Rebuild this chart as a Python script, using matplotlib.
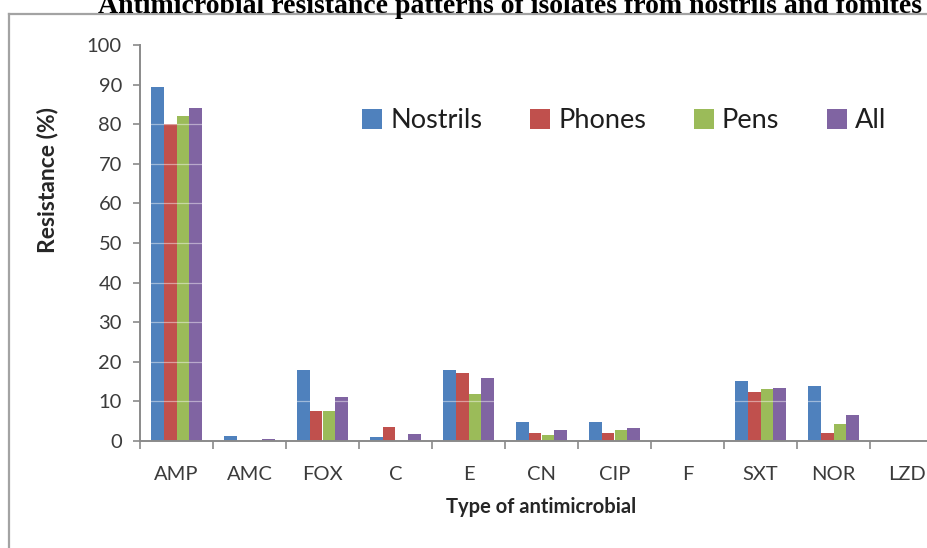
import matplotlib
matplotlib.use("Agg")
import matplotlib.pyplot as plt
import numpy as np
from matplotlib.lines import Line2D

# Resistance (%) per antimicrobial and isolate source
categories = ["AMP", "AMC", "FOX", "C", "E", "CN", "CIP", "F", "SXT", "NOR", "LZD"]
nostrils = [89.5, 1.2, 18.0, 1.1, 18.0, 4.9, 4.9, 0.0, 15.2, 13.9, 0.0]
phones   = [80.0, 0.0, 7.7, 3.5, 17.1, 1.9, 1.9, 0.0, 12.4, 1.9, 0.0]
pens     = [82.0, 0.0, 7.5, 0.0, 11.8, 1.4, 2.8, 0.0, 13.2, 4.3, 0.0]
all_src  = [84.0, 0.4, 11.0, 1.7, 16.0, 2.9, 3.4, 0.0, 13.5, 6.6, 0.0]
series_names = ["Nostrils", "Phones", "Pens", "All"]
yticks = list(range(0, 101, 10))

series = [nostrils, phones, pens, all_src]
colors = ["#4F81BD", "#C0504D", "#9BBB59", "#8064A2"]

W, H = 927, 548
fig = plt.figure(figsize=(W / 100, H / 100), dpi=100)
fig.patch.set_facecolor("white")

# plot area (extends past the right edge of the canvas)
ax = fig.add_axes([140 / W, 107 / H, 803 / W, 396 / H])
ax.set_facecolor("none")

x = np.arange(len(categories))
bw = 0.178
for i, (vals, col, name) in enumerate(zip(series, colors, series_names)):
    ax.bar(x + (i - 1.5) * bw, vals, width=bw, color=col, label=name,
           linewidth=0, zorder=2)

ax.set_xlim(-0.5, len(categories) - 0.5)
ax.set_ylim(0, 100)
ax.set_yticks(yticks)
ax.set_yticklabels([str(v) for v in yticks])

# faint horizontal lines showing across the bars
for v in yticks[1:]:
    ax.axhline(v, color="white", lw=0.9, alpha=0.45, zorder=3)

axis_grey = "#8a8a8a"
for s in ["top", "right"]:
    ax.spines[s].set_visible(False)
for s in ["left", "bottom"]:
    ax.spines[s].set_color(axis_grey)
    ax.spines[s].set_linewidth(1.4)
    ax.spines[s].set_zorder(4)

tick_font = dict(family="Lato", size=14.5)
ax.set_xticks(x)
ax.set_xticklabels(categories, fontdict=tick_font, color="#3b3b3b")
ax.set_xticks(np.arange(-0.5, len(categories) + 0.5, 1), minor=True)
ax.tick_params(axis="x", which="major", length=0, pad=18)
ax.tick_params(axis="x", which="minor", length=6, width=1.2, color=axis_grey,
               direction="out")
ax.tick_params(axis="y", which="major", length=5, width=1.2, color=axis_grey,
               direction="out", pad=8)
for lbl in ax.get_yticklabels():
    lbl.set_fontfamily("Lato")
    lbl.set_fontsize(14.5)
    lbl.set_color("#3b3b3b")

ax.set_xlabel("Type of antimicrobial", family="Lato", weight="bold",
              size=14.5, color="#262626", labelpad=10)
fig.text(48 / W, 1 - 180 / H, "Resistance (%)", family="Lato", weight="bold",
         size=16.5, color="#262626", rotation=90, ha="center", va="center")

leg = fig.legend(loc="center left", bbox_to_anchor=(362 / W, 1 - 121 / H),
                 ncol=4, frameon=False, prop=dict(family="Lato", size=19.5),
                 handlelength=0.75, handleheight=0.75, handletextpad=0.3,
                 columnspacing=1.75, borderpad=0, borderaxespad=0)
for t in leg.get_texts():
    t.set_color("#1e1e1e")

# frame border lines
border = "#a3a3a3"
fig.add_artist(Line2D([9 / W, 1], [1 - 13.5 / H, 1 - 13.5 / H],
                      transform=fig.transFigure, color=border, lw=1.6))
fig.add_artist(Line2D([9 / W, 9 / W], [0, 1 - 13.5 / H],
                      transform=fig.transFigure, color=border, lw=1.6))

fig.text(510 / W, 1 - 13 / H,
         "Antimicrobial resistance patterns of isolates from nostrils and fomites",
         family="Liberation Serif", weight="bold", size=20, ha="center",
         va="baseline", color="black")

fig.savefig("out.png", dpi=100, facecolor="white")
